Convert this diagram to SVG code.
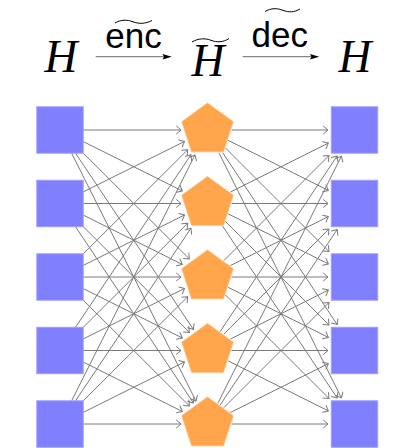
<svg xmlns="http://www.w3.org/2000/svg" width="415" height="448" viewBox="0 0 415 448">
<style>
.sq{fill:#8080ff;stroke:#9d9dff;stroke-width:1}
.pg{fill:#ffa64d;stroke:#ffb870;stroke-width:0.8}
.e{stroke:#7a7a7a;stroke-width:1;fill:none;marker-end:url(#tip)}
.mh{font-family:"Liberation Serif",serif;font-style:italic;font-size:45.5px;fill:#000}
.lb{font-family:"Liberation Sans",sans-serif;font-size:35px;fill:#000}
.tl{fill:none;stroke:#000;stroke-width:1}
.ar{stroke:#000;stroke-width:0.6}
</style>
<defs>
<marker id="tip" viewBox="-6 -5 7 10" refX="0" refY="0" markerWidth="7" markerHeight="10" markerUnits="userSpaceOnUse" orient="auto">
<path d="M-4.5,-3.8 L0,0 L-4.5,3.8" fill="none" stroke="#7a7a7a" stroke-width="1" stroke-linecap="round" stroke-linejoin="round"/>
</marker>
<polygon id="pent" class="pg" points="0,-27 -25.68,-8.34 -15.87,21.84 15.87,21.84 25.68,-8.34"/>
</defs>
<rect width="415" height="448" fill="#fff"/>

<g id="header">
<g id="h-left"><text class="mh" x="44.5" y="72">H</text></g>
<g id="arrow-enc">
<line class="ar" x1="95.7" y1="56.7" x2="166" y2="56.7"/>
<polygon points="162.5,53.9 171.7,56.7 162.5,59.5 164,56.7" fill="#000"/>
<text class="lb" x="105.3" y="47.5">enc</text>
<path class="tl" d="M115,23 C121,19.5 127,19.5 133,21.8 C139,24 145,24 152,20.5"/>
</g>
<g id="h-mid"><text class="mh" x="191.5" y="75.5">H</text>
<path class="tl" d="M192,42 C198,38.3 205,38 211,40.3 C217,42.5 223,42.5 229,38.5"/></g>
<g id="arrow-dec">
<line class="ar" x1="242.7" y1="56.7" x2="313" y2="56.7"/>
<polygon points="310,53.9 319.2,56.7 310,59.5 311.5,56.7" fill="#000"/>
<text class="lb" x="251.5" y="46.7">dec</text>
<path class="tl" d="M265,11.5 C271,8 277,8 283,10.3 C289,12.5 294,12.5 300,9"/>
</g>
<g id="h-right"><text class="mh" x="338.5" y="72">H</text></g>
</g>

<g id="connectors">
<path class="e" d="M83.2,130 L181.03,130"/>
<path class="e" d="M83.2,141.56 L182.32,190.95"/>
<path class="e" d="M83.2,153.12 L189.35,258.91"/>
<path class="e" d="M75.52,153.2 L193.4,329.42"/>
<path class="e" d="M71.64,153.2 L196,401.1"/>
<path class="e" d="M83.2,191.94 L184.6,141.41"/>
<path class="e" d="M83.2,203.5 L181.03,203.5"/>
<path class="e" d="M83.2,215.06 L182.32,264.45"/>
<path class="e" d="M83.2,226.62 L189.35,332.41"/>
<path class="e" d="M75.52,226.7 L193.4,402.92"/>
<path class="e" d="M83.2,253.88 L187.67,149.76"/>
<path class="e" d="M83.2,265.44 L184.6,214.91"/>
<path class="e" d="M83.2,277 L181.03,277"/>
<path class="e" d="M83.2,288.56 L182.32,337.95"/>
<path class="e" d="M83.2,300.12 L189.35,405.91"/>
<path class="e" d="M75.52,327.3 L190.94,154.75"/>
<path class="e" d="M83.2,327.38 L187.67,223.26"/>
<path class="e" d="M83.2,338.94 L184.6,288.41"/>
<path class="e" d="M83.2,350.5 L181.03,350.5"/>
<path class="e" d="M83.2,362.06 L182.32,411.45"/>
<path class="e" d="M71.64,400.8 L194.97,154.97"/>
<path class="e" d="M75.52,400.8 L190.94,228.25"/>
<path class="e" d="M83.2,400.88 L187.67,296.76"/>
<path class="e" d="M83.2,412.44 L184.6,361.91"/>
<path class="e" d="M83.2,424 L181.03,424"/>

<path class="e" d="M231.47,130 L328,130"/>
<path class="e" d="M228.15,140.33 L328.35,190.42"/>
<path class="e" d="M225.54,148.04 L328.97,251.47"/>
<path class="e" d="M222.62,152.67 L337.2,324.55"/>
<path class="e" d="M218.87,152.74 L341.42,397.85"/>
<path class="e" d="M230.41,192.05 L328.35,143.08"/>
<path class="e" d="M231.47,203.5 L328,203.5"/>
<path class="e" d="M228.15,213.83 L328.35,263.92"/>
<path class="e" d="M225.54,221.54 L328.97,324.97"/>
<path class="e" d="M222.62,226.17 L337.2,398.05"/>
<path class="e" d="M223.84,260.66 L328.97,155.53"/>
<path class="e" d="M230.41,265.55 L328.35,216.58"/>
<path class="e" d="M231.47,277 L328,277"/>
<path class="e" d="M228.15,287.33 L328.35,337.42"/>
<path class="e" d="M225.54,295.04 L328.97,398.47"/>
<path class="e" d="M220.18,331.48 L337.2,155.95"/>
<path class="e" d="M223.84,334.16 L328.97,229.03"/>
<path class="e" d="M230.41,339.05 L328.35,290.08"/>
<path class="e" d="M231.47,350.5 L328,350.5"/>
<path class="e" d="M228.15,360.83 L328.35,410.92"/>
<path class="e" d="M217.85,403.3 L341.42,156.15"/>
<path class="e" d="M220.18,404.98 L337.2,229.45"/>
<path class="e" d="M223.84,407.66 L328.97,302.53"/>
<path class="e" d="M230.41,412.55 L328.35,363.58"/>
<path class="e" d="M231.47,424 L328,424"/>
</g>

<g id="l1"><rect class="sq" x="36.8" y="106.8" width="46.4" height="46.4"/></g>
<g id="l2"><rect class="sq" x="36.8" y="180.3" width="46.4" height="46.4"/></g>
<g id="l3"><rect class="sq" x="36.8" y="253.8" width="46.4" height="46.4"/></g>
<g id="l4"><rect class="sq" x="36.8" y="327.3" width="46.4" height="46.4"/></g>
<g id="l5"><rect class="sq" x="36.8" y="400.8" width="46.4" height="46.4"/></g>

<g id="m1"><use href="#pent" x="207.5" y="130"/></g>
<g id="m2"><use href="#pent" x="207.5" y="203.5"/></g>
<g id="m3"><use href="#pent" x="207.5" y="277"/></g>
<g id="m4"><use href="#pent" x="207.5" y="350.5"/></g>
<g id="m5"><use href="#pent" x="207.5" y="424"/></g>

<g id="r1"><rect class="sq" x="331.3" y="106.8" width="46.4" height="46.4"/></g>
<g id="r2"><rect class="sq" x="331.3" y="180.3" width="46.4" height="46.4"/></g>
<g id="r3"><rect class="sq" x="331.3" y="253.8" width="46.4" height="46.4"/></g>
<g id="r4"><rect class="sq" x="331.3" y="327.3" width="46.4" height="46.4"/></g>
<g id="r5"><rect class="sq" x="331.3" y="400.8" width="46.4" height="46.4"/></g>
</svg>
